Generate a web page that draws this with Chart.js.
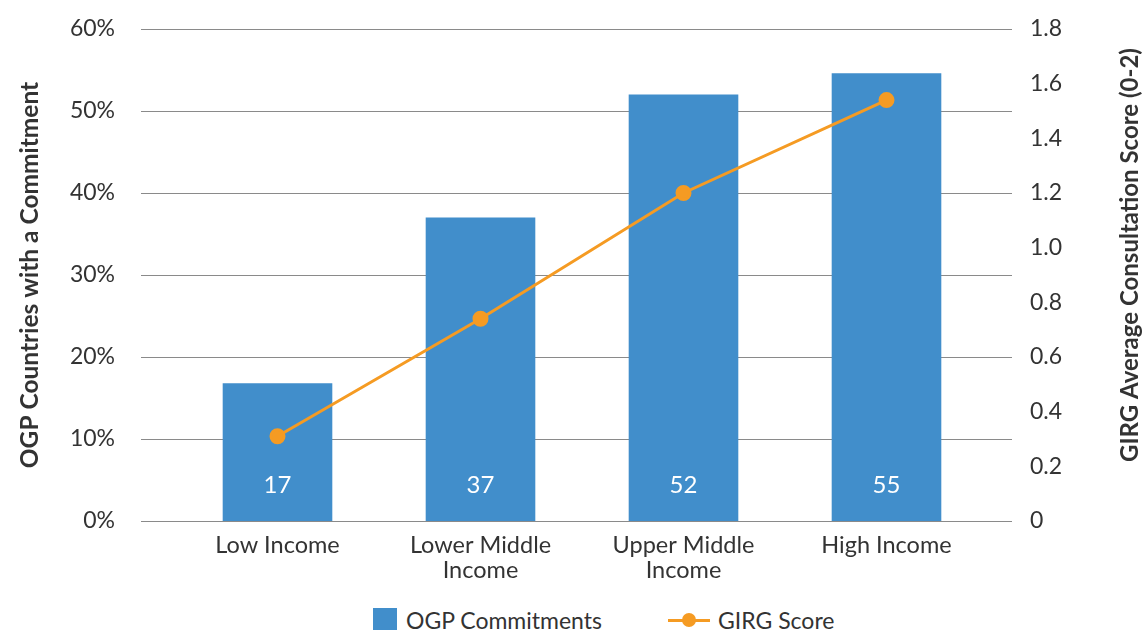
<!DOCTYPE html>
<html>
<head>
<meta charset="utf-8">
<script src="https://cdn.jsdelivr.net/npm/chart.js@4.4.1/dist/chart.umd.min.js"></script>
<style>
  body { margin: 0; background: #fff; font-family: "Lato", sans-serif; }
  #wrap { position: relative; width: 1145px; height: 630px; }
  #legend { position: absolute; left: 373px; top: 606px; display: flex; align-items: center; font-size: 23px; color: #333; }
  .sq { display: inline-block; width: 24px; height: 24px; background: #418ecb; margin-right: 9px; }
  .ln { position: relative; display: inline-block; width: 42px; height: 3px; background: #f59b23; margin: 0 8px 0 66px; }
  .ln::after { content: ""; position: absolute; left: 14px; top: -6px; width: 14px; height: 14px; border-radius: 50%; background: #f59b23; }
</style>
</head>
<body>
<div id="wrap">
  <canvas id="grafico" width="1145" height="600" style="width:1145px;height:600px"></canvas>
  <div id="legend"><span class="sq"></span>OGP Commitments<span class="ln"></span>GIRG Score</div>
</div>
<script>
// dados
const categorias = [['Low Income'], ['Lower Middle', 'Income'], ['Upper Middle', 'Income'], ['High Income']];
const compromissos = [16.8, 37, 52, 54.6];   // % de países OGP com compromisso
const girgScore = [0.31, 0.74, 1.20, 1.54];    // nota média de consulta (0-2)
const ticksEsquerda = [0, 10, 20, 30, 40, 50, 60];

// linhas de grade mais largas que a área do gráfico
const gradePlugin = {
    id: 'grade',
    beforeDatasetsDraw(chart) {
        const ctx = chart.ctx;
        const y = chart.scales.y;
        ctx.save();
        ctx.strokeStyle = '#8a8a8a';
        ctx.lineWidth = 1.2;
        ticksEsquerda.forEach((v) => {
            const py = Math.round(y.getPixelForValue(v)) + 0.5;
            ctx.beginPath();
            ctx.moveTo(141, py);
            ctx.lineTo(1012, py);
            ctx.stroke();
        });
        ctx.restore();
    }
};

// números brancos dentro das barras + título do eixo direito (lido de baixo p/ cima)
const rotulosPlugin = {
    id: 'rotulos',
    afterDatasetsDraw(chart) {
        const ctx = chart.ctx;
        const meta = chart.getDatasetMeta(1);
        ctx.save();
        ctx.fillStyle = '#fff';
        ctx.font = '24px Lato';
        ctx.textAlign = 'center';
        ctx.textBaseline = 'middle';
        meta.data.forEach((bar, i) => {
            ctx.fillText(Math.round(compromissos[i]), bar.x, bar.base - 36);
        });
        ctx.restore();
    },
    afterDraw(chart) {
        const ctx = chart.ctx;
        ctx.save();
        ctx.translate(1130, 255);
        ctx.rotate(-Math.PI / 2);
        ctx.fillStyle = '#333';
        ctx.font = 'bold 24px Lato';
        ctx.textAlign = 'center';
        ctx.textBaseline = 'middle';
        ctx.fillText('GIRG Average Consultation Score (0-2)', 0, 0);
        ctx.restore();
    }
};

const ctx = document.getElementById('grafico').getContext('2d');
new Chart(ctx, {
    data: {
        labels: categorias,
        datasets: [
            {
                type: 'line',
                label: 'GIRG Score',
                data: girgScore,
                yAxisID: 'y2',
                borderColor: '#f59b23',
                backgroundColor: '#f59b23',
                borderWidth: 3,
                pointRadius: 6.5,
                pointHoverRadius: 6.5,
                order: 1
            },
            {
                type: 'bar',
                label: 'OGP Commitments',
                data: compromissos,
                yAxisID: 'y',
                backgroundColor: '#418ecb',
                categoryPercentage: 1,
                barPercentage: 0.54,
                order: 2
            }
        ]
    },
    options: {
        responsive: false,
        animation: false,
        layout: { padding: { top: 29, bottom: 0, left: 0, right: 0 } },
        plugins: { legend: { display: false }, tooltip: { enabled: false } },
        scales: {
            x: {
                grid: { display: false, drawTicks: false },
                border: { display: false },
                ticks: { color: '#333', font: { family: 'Lato', size: 23.5, lineHeight: 1.1 }, padding: 11, maxRotation: 0 },
                afterFit(scale) { scale.height = 79; }
            },
            y: {
                position: 'left',
                min: 0,
                max: 60,
                grid: { display: false, drawTicks: true, tickLength: 55 },
                border: { display: false },
                ticks: {
                    stepSize: 10,
                    padding: 6,
                    color: '#333',
                    font: { family: 'Lato', size: 23 },
                    callback: (v) => v + '%'
                },
                title: {
                    display: true,
                    text: 'OGP Countries with a Commitment',
                    color: '#333',
                    font: { family: 'Lato', size: 24.5, weight: 'bold' },
                    padding: { top: 15, bottom: 0 }
                },
                afterFit(scale) { scale.width = 176; }
            },
            y2: {
                position: 'right',
                min: 0,
                max: 1.8,
                grid: { display: false, drawTicks: true, tickLength: 36 },
                border: { display: false },
                ticks: {
                    stepSize: 0.2,
                    padding: 6,
                    color: '#333',
                    font: { family: 'Lato', size: 23 },
                    callback: (v) => v === 0 ? '0' : v.toFixed(1)
                },
                afterFit(scale) { scale.width = 157; }
            }
        }
    },
    plugins: [gradePlugin, rotulosPlugin]
});
</script>
</body>
</html>
